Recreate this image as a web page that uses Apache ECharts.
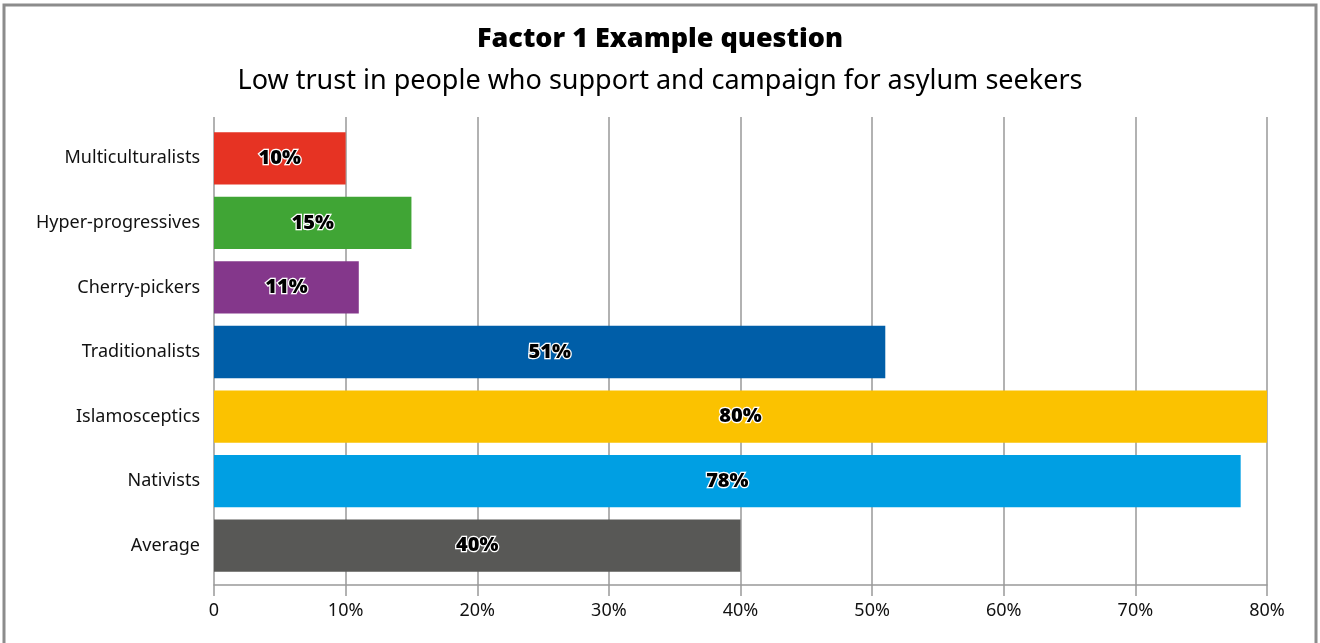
<!DOCTYPE html>
<html>
<head>
<meta charset="utf-8">
<script src="https://cdn.jsdelivr.net/npm/echarts@6/dist/echarts.min.js"></script>
<style>
  html, body { margin: 0; padding: 0; background: #fff; }
  #chart { width: 1320px; height: 643px; }
</style>
</head>
<body>
<div id="chart"></div>
<script>
// Segments, top to bottom
const categories = ['Multiculturalists', 'Hyper-progressives', 'Cherry-pickers', 'Traditionalists', 'Islamosceptics', 'Nativists', 'Average'];
// Share with low trust in people who support and campaign for asylum seekers (%)
const values = [10, 15, 11, 51, 80, 78, 40];
const colors = ['#E63323', '#40A535', '#84378B', '#005EA8', '#FBC200', '#009FE3', '#585856'];
const xTicks = [0, 10, 20, 30, 40, 50, 60, 70, 80];

const FONT = '"Noto Sans", "Open Sans", sans-serif';

const chart = echarts.init(document.getElementById('chart'));

chart.setOption({
  backgroundColor: '#fff',
  animation: false,
  title: [
    {
      text: 'Factor 1 Example question',
      left: 'center', top: 21,
      textStyle: { fontFamily: FONT, fontSize: 27, fontWeight: 900, color: '#000' }
    },
    {
      text: 'Low trust in people who support and campaign for asylum seekers',
      left: 'center', top: 63,
      textStyle: { fontFamily: FONT, fontSize: 27, fontWeight: 'normal', color: '#000' }
    }
  ],
  graphic: [{
    type: 'rect',
    shape: { x: 4, y: 5, width: 1312, height: 700 },
    style: { fill: 'none', stroke: '#8c8c8c', lineWidth: 3 },
    silent: true
  }],
  grid: [
    // gridlines, value axis and ticks
    { left: 214, right: 53, top: 117, bottom: 58 },
    // bars and category labels
    { left: 214, right: 53, top: 126, bottom: 65 }
  ],
  xAxis: [
    {
      gridIndex: 0, type: 'value', min: xTicks[0], max: xTicks[xTicks.length - 1], interval: 10,
      axisLine: { show: true, lineStyle: { color: '#999', width: 1.5 } },
      axisTick: { show: true, length: 11, lineStyle: { color: '#999', width: 1.5 } },
      splitLine: { show: true, lineStyle: { color: '#999', width: 1.5 } },
      axisLabel: {
        margin: 17, fontFamily: FONT, fontSize: 18, color: '#111',
        formatter: v => (v === 0 ? '0' : v + '%')
      }
    },
    {
      gridIndex: 1, type: 'value', min: xTicks[0], max: xTicks[xTicks.length - 1], interval: 10,
      show: false
    }
  ],
  yAxis: [
    {
      gridIndex: 0, type: 'category', data: categories, inverse: true,
      show: false
    },
    {
      gridIndex: 1, type: 'category', data: categories, inverse: true,
      axisLine: { show: false },
      axisTick: { show: false },
      splitLine: { show: false },
      axisLabel: { margin: 14, fontFamily: FONT, fontSize: 18, color: '#111' }
    }
  ],
  series: [{
    type: 'bar',
    xAxisIndex: 1, yAxisIndex: 1,
    barCategoryGap: '19%',
    data: values.map((v, i) => ({ value: v, itemStyle: { color: colors[i] } })),
    label: {
      show: true,
      position: 'inside',
      formatter: p => p.value + '%',
      fontFamily: FONT, fontSize: 20, fontWeight: 900, color: '#000',
      textBorderColor: '#fff', textBorderWidth: 2.5
    }
  }]
});
</script>
</body>
</html>
